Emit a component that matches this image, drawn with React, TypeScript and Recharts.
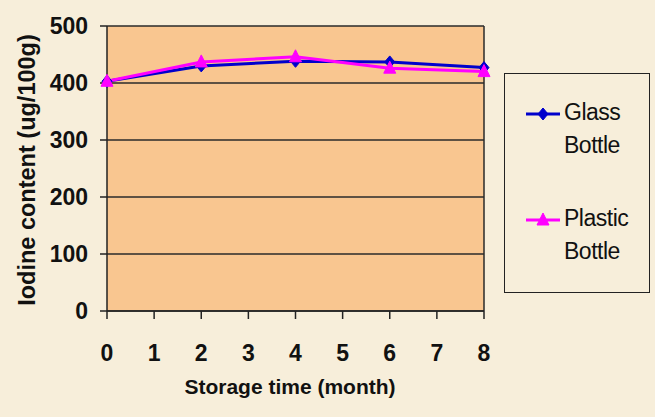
import { LineChart, Line, XAxis, YAxis, CartesianGrid, ReferenceLine } from "recharts";

const months = [0, 2, 4, 6, 8];
const glassBottle = [403, 430, 438, 437, 427];
const plasticBottle = [403, 437, 446, 426, 420];
const xTicks = [0, 1, 2, 3, 4, 5, 6, 7, 8];
const yTicks = [0, 100, 200, 300, 400, 500];

const data = months.map((m, i) => ({ month: m, glass: glassBottle[i], plastic: plasticBottle[i] }));

const FONT = "'Liberation Sans', Arial, sans-serif";

function Diamond(props: any) {
  const { cx, cy } = props;
  if (cx == null || cy == null) return null;
  return <path d={`M${cx},${cy - 6} L${cx + 5},${cy} L${cx},${cy + 6} L${cx - 5},${cy} Z`} fill="#0000CC" stroke="#0000CC" />;
}

function Triangle(props: any) {
  const { cx, cy } = props;
  if (cx == null || cy == null) return null;
  return <path d={`M${cx},${cy - 7} L${cx + 6},${cy + 5} L${cx - 6},${cy + 5} Z`} fill="#FF00FF" stroke="#FF00FF" />;
}

function LegendBox() {
  const item = (color: string, marker: React.ReactNode, l1: string, l2: string) => (
    <div style={{ display: "flex", alignItems: "flex-start", marginBottom: 44 }}>
      <svg width={36} height={24} style={{ marginTop: 2, flexShrink: 0 }}>
        <line x1={1} y1={12} x2={35} y2={12} stroke={color} strokeWidth={3} />
        {marker}
      </svg>
      <div style={{ lineHeight: "33px", marginLeft: 3, marginTop: -4 }}>
        {l1}
        <br />
        {l2}
      </div>
    </div>
  );
  return (
    <div
      style={{
        position: "absolute",
        left: 504,
        top: 73,
        width: 146,
        height: 220,
        boxSizing: "border-box",
        border: "1.5px solid #222",
        padding: "26px 0 0 20px",
        fontFamily: FONT,
        fontSize: 23,
        letterSpacing: -0.5,
        color: "#111",
      }}
    >
      {item("#0000CC", <Diamond cx={18} cy={12} />, "Glass", "Bottle")}
      {item("#FF00FF", <Triangle cx={18} cy={12} />, "Plastic", "Bottle")}
    </div>
  );
}

export default function App() {
  return (
    <div style={{ position: "fixed", left: 0, top: 0, width: 655, height: 417, background: "#F7EEDA" }}>
      <LineChart width={655} height={417} data={data} margin={{ top: 26, right: 171, bottom: 0, left: 0 }}>
        <CartesianGrid horizontal vertical={false} fill="#F9C690" stroke="#2a2a2a" strokeWidth={1.5} fillOpacity={1} />
        <XAxis
          dataKey="month"
          type="number"
          domain={[0, 8]}
          ticks={xTicks}
          height={106}
          tickSize={8}
          tickMargin={26}
          stroke="#222"
          strokeWidth={1.5}
          tick={{ fill: "#111", fontFamily: FONT, fontSize: 23, fontWeight: "bold" }}
          label={{
            content: () => (
              <text x={290} y={394} textAnchor="middle" fontFamily={FONT} fontSize={21} fontWeight="bold" fill="#111">
                Storage time (month)
              </text>
            ),
          }}
        />
        <YAxis
          domain={[0, 500]}
          ticks={yTicks}
          width={107}
          tickSize={7}
          tickMargin={12}
          stroke="#222"
          strokeWidth={1.5}
          tick={{ fill: "#111", fontFamily: FONT, fontSize: 23, fontWeight: "bold" }}
          label={{
            content: () => (
              <text
                x={27}
                y={170}
                transform="rotate(-90 27 170)"
                textAnchor="middle"
                dominantBaseline="central"
                fontFamily={FONT}
                fontSize={23.5}
                fontWeight="bold"
                fill="#111"
              >
                Iodine content (ug/100g)
              </text>
            ),
          }}
        />
        <ReferenceLine x={8} stroke="#2a2a2a" strokeWidth={1.5} />
        <Line
          type="linear"
          dataKey="glass"
          stroke="#0000CC"
          strokeWidth={3}
          dot={<Diamond />}
          activeDot={false}
          isAnimationActive={false}
        />
        <Line
          type="linear"
          dataKey="plastic"
          stroke="#FF00FF"
          strokeWidth={3}
          dot={<Triangle />}
          activeDot={false}
          isAnimationActive={false}
        />
      </LineChart>
      <LegendBox />
    </div>
  );
}
